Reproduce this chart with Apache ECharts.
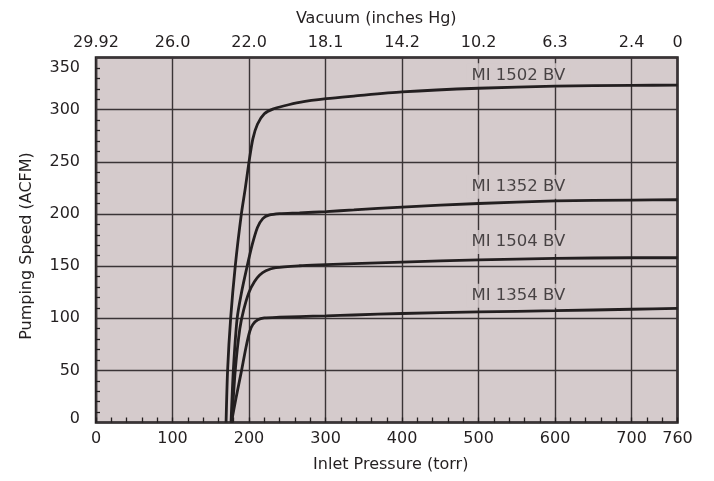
<!DOCTYPE html>
<html><head><meta charset="utf-8">
<script src="https://cdn.jsdelivr.net/npm/echarts@6/dist/echarts.min.js"></script>
<style>html,body{margin:0;padding:0;background:#fff}#c{width:714px;height:481px}</style>
</head><body><div id="c"></div>
<script>
const pressureTicks = [0,100,200,300,400,500,600,700,760];
const pressureLabels = ['0','100','200','300','400','500','600','700','760'];
const vacuumLabels = ['29.92','26.0','22.0','18.1','14.2','10.2','6.3','2.4','0'];
const seriesNames = ['MI 1502 BV','MI 1352 BV','MI 1504 BV','MI 1354 BV'];

const p1502 = [170,172,176,182,190,195,200,205,211,220,231,245,266,301,337,400,500,600,700,760];
const s1502 = [0,50,100,150,200,224,250,272,286,296,300.5,303.5,307,310.5,313,317,320.5,322.5,323.3,323.5];
const p1352 = [176.5,179.5,184.5,190,197,204,211,218,226,240,266,301,337,400,500,600,700,760];
const s1352 = [0,50,100,124,148,170,187,195.5,198.8,200.3,201,202.3,203.8,206.6,210,212.5,213.3,213.6];
const p1504 = [177.5,182,188,193,200,207,214,222,235,266,301,337,400,500,600,700,760];
const s1504 = [0,50,90,108,125,135,141.5,145.5,148.5,150.3,151.3,152.3,153.8,156,157.3,158,158];
const p1354 = [177,183,190,196,201,205,211.5,220,240,266,301,337,400,500,600,700,760];
const s1354 = [0,23.5,49,72,87.5,94,98.5,100.3,101,101.6,102.3,103.1,104.5,106,107.2,108.6,109.4];

const labelPressure = [552,552,552,552];
const labelSpeed = [333,226,173,121.5];

const FONT = 'DejaVu Sans';
const INK = '#231f20';
const BG = '#d5cbcc';
const GRIDC = '#3a3436';

const curves = [[p1502,s1502],[p1352,s1352],[p1504,s1504],[p1354,s1354]];
const fmt = (labels) => (v) => { const i = pressureTicks.indexOf(v); return i >= 0 ? labels[i] : ''; };
const tickFont = {fontFamily:FONT, fontSize:16, color:INK};

const chart = echarts.init(document.getElementById('c'), null, {renderer:'canvas'});
chart.setOption({
  animation: false,
  backgroundColor: '#ffffff',
  textStyle: {fontFamily: FONT, color: INK},
  grid: {left: 96, top: 57.5, width: 581.5, height: 365, show: true, backgroundColor: BG,
         borderColor: INK, borderWidth: 2.5, containLabel: false, outerBoundsMode: 'none'},
  xAxis: [
    {type:'value', position:'bottom', min:0, max:760, interval:100,
     name:'Inlet Pressure (torr)', nameLocation:'middle', nameGap:34,
     nameTextStyle:{fontFamily:FONT, fontSize:16, color:INK, padding:[0,0,0,8]},
     axisLine:{show:false}, axisTick:{show:false},
     axisLabel:{show:true, interval:0, showMaxLabel:true, showMinLabel:true, hideOverlap:false,
       fontFamily:FONT, fontSize:16, color:INK, margin:8, formatter: fmt(pressureLabels)},
     splitLine:{show:true, lineStyle:{color:GRIDC, width:1.4, type:'solid'}}},
    {type:'value', position:'top', min:0, max:760, interval:100,
     name:'Vacuum (inches Hg)', nameLocation:'middle', nameGap:31,
     nameTextStyle:{fontFamily:FONT, fontSize:16, color:INK, padding:[0,21,0,0]},
     axisLine:{show:false}, axisTick:{show:false}, splitLine:{show:false},
     axisLabel:{show:true, interval:0, showMaxLabel:true, showMinLabel:true, hideOverlap:false,
       fontFamily:FONT, fontSize:16, color:INK, margin:7, formatter: fmt(vacuumLabels)}},
    {type:'value', position:'bottom', min:0, max:760, interval:20,
     axisLine:{show:false}, axisLabel:{show:false}, splitLine:{show:false},
     axisTick:{show:true, inside:true, length:5, lineStyle:{color:INK, width:1.3}}}
  ],
  yAxis: [
    {type:'value', position:'left', min:0, max:350, interval:50,
     name:'Pumping Speed (ACFM)', nameLocation:'middle', nameGap:61,
     nameTextStyle:{fontFamily:FONT, fontSize:16, color:INK, padding:[0,12,0,0]},
     axisLine:{show:false}, axisTick:{show:false, inside:true},
     minorTick:{show:true, splitNumber:5, length:4, lineStyle:{color:INK, width:1.3}},
     axisLabel:{show:true, fontFamily:FONT, fontSize:16, color:INK, margin:16,
       formatter: (v) => v === 0 ? '{lo|0}' : (v === 350 ? '{hi|350}' : String(v)),
       rich: {
         lo: Object.assign({padding:[0,0,7,0]}, tickFont),
         hi: Object.assign({padding:[20,0,0,0]}, tickFont)
       }},
     splitLine:{show:true, lineStyle:{color:GRIDC, width:1.4, type:'solid'}}}
  ],
  series: [{
    type:'scatter', xAxisIndex:0, yAxisIndex:0, symbolSize:0, z:1, silent:true,
    data: labelPressure.map((x, i) => ({value:[x, labelSpeed[i]], name: seriesNames[i]})),
    label:{show:true, position:'inside', formatter: (p) => p.name,
      fontFamily:FONT, fontSize:16.5, color:INK, backgroundColor:BG, padding:[3,5], lineHeight:18}
  }].concat(curves.map((c, k) => ({
    name: seriesNames[k], type:'line', xAxisIndex:0, yAxisIndex:0,
    data: c[0].map((x, i) => [x, c[1][i]]),
    showSymbol:false, symbol:'none', smooth:0.25,
    lineStyle:{color:INK, width:2.8}, z:3
  })))
});
</script></body></html>
